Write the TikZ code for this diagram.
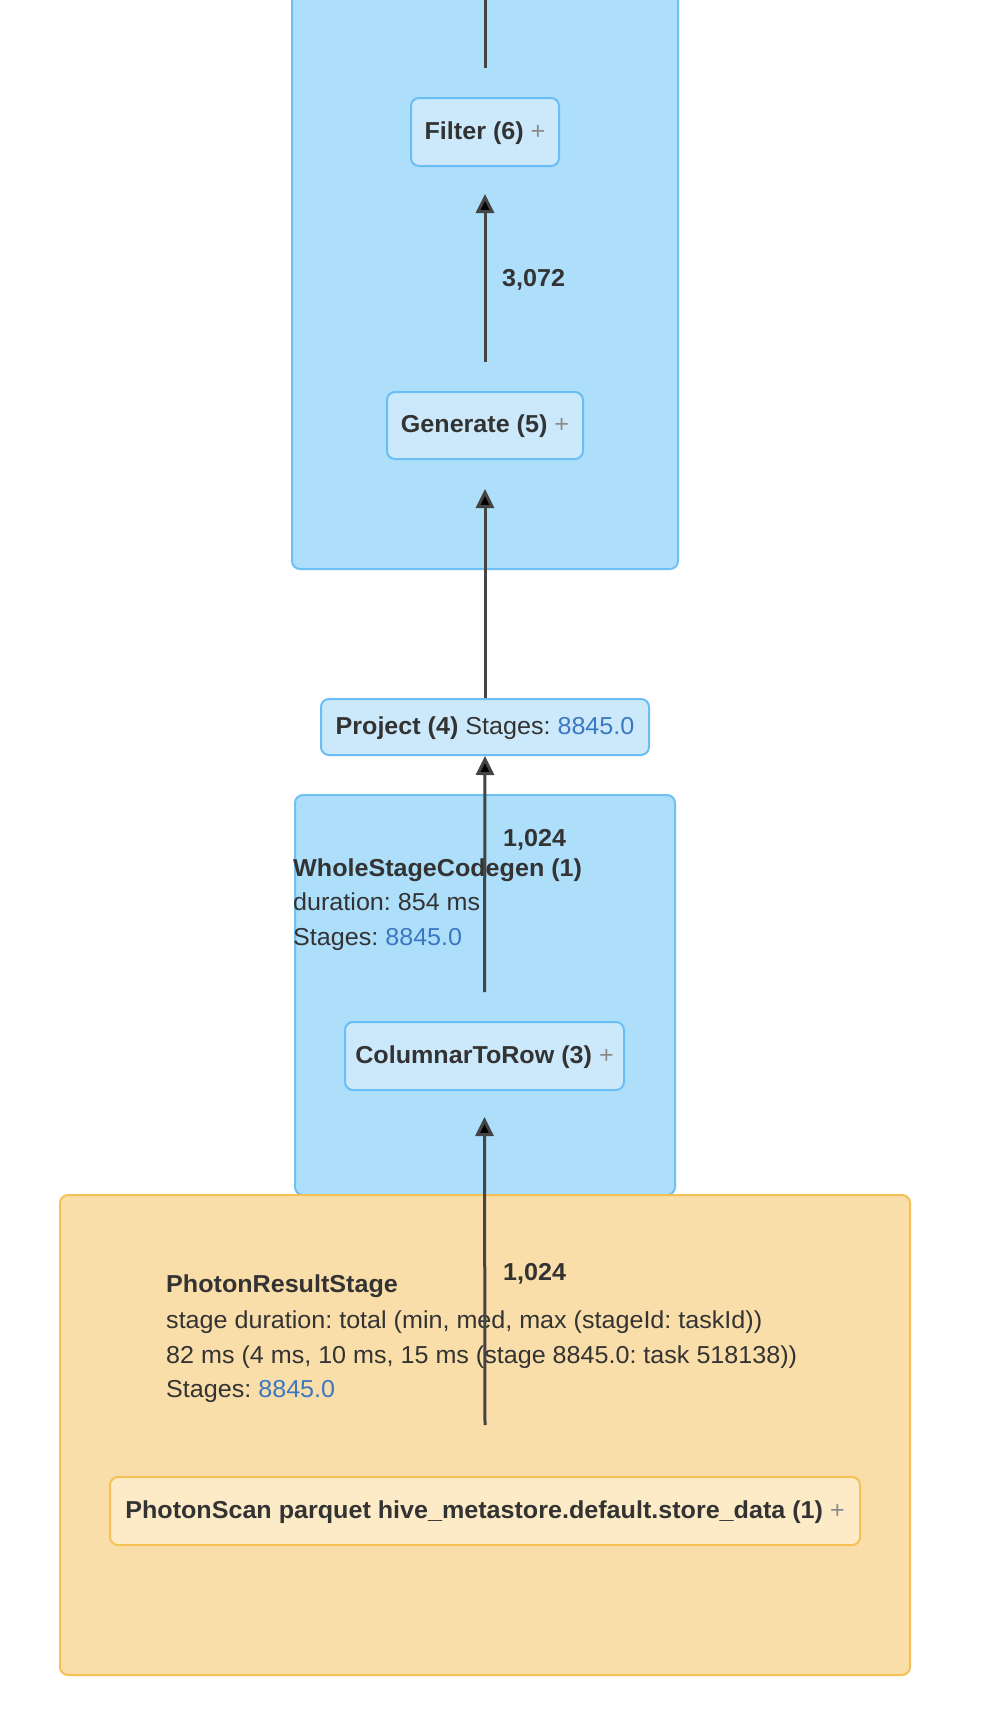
\documentclass[tikz,border=0pt]{standalone}
\usepackage{fontspec}
\setmainfont[FakeStretch=1.025]{Liberation Sans}
\frenchspacing
\usetikzlibrary{arrows.meta}
\definecolor{clfill}{HTML}{ADDEFA}
\definecolor{clborder}{HTML}{6EC0F5}
\definecolor{opfill}{HTML}{CCE9FC}
\definecolor{opborder}{HTML}{6BBEF3}
\definecolor{orfill}{HTML}{F9DEA9}
\definecolor{orborder}{HTML}{F5C156}
\definecolor{oropfill}{HTML}{FDEBC8}
\definecolor{txt}{HTML}{333333}
\definecolor{lnk}{HTML}{3B78C2}
\definecolor{plusc}{HTML}{8A8A8A}
\definecolor{edgec}{HTML}{444444}
\newcommand{\pls}{\mdseries\textcolor{plusc}{+}}
\newcommand{\lk}[1]{\textcolor{lnk}{#1}}
\tikzset{
  basefont/.style={font=\fontsize{24.5}{29}\selectfont\frenchspacing},
  cluster/.style={draw=clborder, fill=clfill, line width=2pt, rounded corners=8pt},
  orcluster/.style={draw=orborder, fill=orfill, line width=2pt, rounded corners=8pt},
  opnode/.style={basefont, draw=opborder, fill=opfill, line width=2pt, rounded corners=8pt,
     text height=14pt, text depth=0pt, inner sep=0pt, text=txt},
  oropnode/.style={opnode, draw=orborder, fill=oropfill},
  lbl/.style={basefont, inner sep=0pt, text=txt, anchor=base west},
  elbl/.style={inner sep=0pt, text=txt, anchor=base west, font=\fontsize{24.5}{29}\selectfont\bfseries},
  edge/.style={draw=edgec, line width=3pt, -{Triangle[width=18pt,length=19pt,fill=black]}},
  plainedge/.style={draw=edgec, line width=3pt},
}
\begin{document}
\begin{tikzpicture}[x=1pt,y=-1pt]
\fill[white] (0,0) rectangle (994,1710);
\useasboundingbox (0,0) rectangle (994,1710);
% clusters
\draw[cluster] (292,-20) rectangle (678,569);
\draw[cluster] (295,795) rectangle (675,1195);
\draw[orcluster] (60,1195) rectangle (910,1675);
% operator nodes
\node[opnode, minimum width=148pt, minimum height=68pt] (filter) at (485,132) {\bfseries Filter (6) \pls};
\node[opnode, minimum width=196pt, minimum height=67pt] (generate) at (485,425.5) {\bfseries Generate (5) \pls};
\node[opnode, minimum width=328pt, minimum height=56pt] (project) at (485,727) {\bfseries Project (4) \mdseries Stages: \lk{8845.0}};
\node[opnode, minimum width=279pt, minimum height=68pt] (ctr) at (484.5,1056) {\bfseries ColumnarToRow (3) \pls};
\node[oropnode, minimum width=750pt, minimum height=68pt] (scan) at (485,1511) {\bfseries PhotonScan parquet hive\_metastore.default.store\_data (1) \pls};
% cluster labels
\node[lbl, font=\fontsize{24.5}{29}\selectfont\bfseries] (wsc1) at (293,876) {WholeStageCodegen (1)};
\node[lbl] (wsc2) at (293,910) {duration: 854 ms};
\node[lbl] (wsc3) at (293,945) {Stages: \lk{8845.0}};
\node[lbl, font=\fontsize{24.5}{29}\selectfont\bfseries] (prs1) at (166,1292) {PhotonResultStage};
\node[lbl] (prs2) at (166,1328) {stage duration: total (min, med, max (stageId: taskId))};
\node[lbl] (prs3) at (166,1363) {82 ms (4 ms, 10 ms, 15 ms (stage 8845.0: task 518138))};
\node[lbl] (prs4) at (166,1397) {Stages: \lk{8845.0}};
% edge labels
\node[elbl] (e3072) at (502,286) {3,072};
\node[elbl] (e1024a) at (503,846) {1,024};
\node[elbl] (e1024b) at (503,1280) {1,024};
% edges
\coordinate (topend) at (485,-5);
\draw[plainedge] (topend) -- ([yshift=29pt]filter.north);
\draw[edge] ([yshift=29pt]generate.north) -- ([yshift=-27pt]filter.south);
\draw[edge] (project.north) -- ([yshift=-29pt]generate.south);
\draw[edge] ([yshift=29pt]ctr.north) -- (project.south);
\draw[edge] ([yshift=51pt]scan.north) -- ([yshift=-26pt]ctr.south);
\end{tikzpicture}
\end{document}
